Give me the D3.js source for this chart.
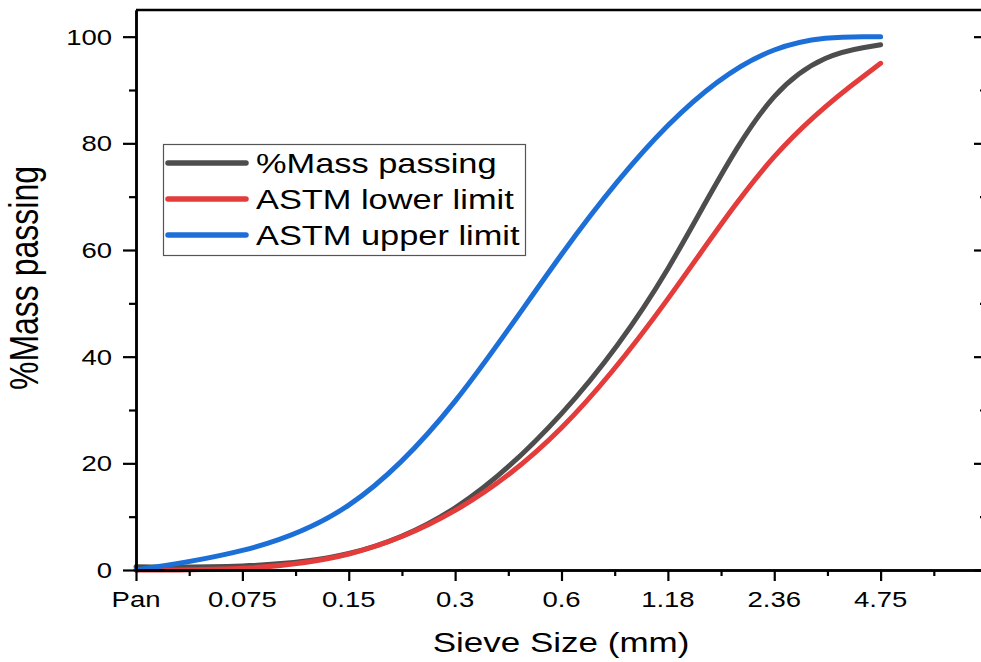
<!DOCTYPE html>
<html>
<head>
<meta charset="utf-8">
<script src="https://cdn.jsdelivr.net/npm/d3@7/dist/d3.min.js"></script>
<style>
  body { margin: 0; background: #fff; }
  text { font-family: "Liberation Sans", Arial, sans-serif; fill: #000; }
</style>
</head>
<body>
<svg id="chart" width="981" height="662"></svg>
<script>
// sieve sizes (categorical, evenly spaced)
const sieves = ['Pan', '0.075', '0.15', '0.3', '0.6', '1.18', '2.36', '4.75'];
// % passing for each sieve
const massPassing = [0.6, 0.5, 2, 10, 28, 54, 95, 98.5];
const lowerLimit = [0, 0, 2, 10, 25, 50, 80, 95];
const upperLimit = [0, 3, 10, 30, 60, 85, 100, 100];
const yTicks = [0, 20, 40, 60, 80, 100];

const series = [
  { name: '%Mass passing', values: massPassing, color: '#4d4d4d' },
  { name: 'ASTM lower limit', values: lowerLimit, color: '#e43b3b' },
  { name: 'ASTM upper limit', values: upperLimit, color: '#1d6fd8' }
];

const stretch = 1.25; // picture is a bit wide, so the text is too
const svg = d3.select('#chart');

const x = d3.scaleLinear().domain([0, 8]).range([136, 987]);
const y = d3.scaleLinear().domain([0, 105]).range([570, 10]);

// frame top + right
svg.append('line').attr('x1', x(0)).attr('x2', x(8)).attr('y1', y(105)).attr('y2', y(105))
  .attr('stroke', '#000').attr('stroke-width', 2.5);
svg.append('line').attr('x1', x(8)).attr('x2', x(8)).attr('y1', y(105)).attr('y2', y(0))
  .attr('stroke', '#000').attr('stroke-width', 2.5);

// curves (B-spline, same as the original plot)
const line = d3.line()
  .x((d, i) => x(i))
  .y(d => y(d))
  .curve(d3.curveBasis);

svg.append('g').selectAll('path')
  .data(series)
  .enter()
  .append('path')
  .attr('d', d => line(d.values))
  .attr('fill', 'none')
  .attr('stroke', d => d.color)
  .attr('stroke-width', 5)
  .attr('stroke-linecap', 'round');

// left axis: minor then major
svg.append('g').attr('transform', `translate(${x(0)},0)`)
  .call(d3.axisLeft(y).tickValues([10, 30, 50, 70, 90]).tickSize(7).tickSizeOuter(0).tickFormat(''));
svg.append('g').attr('transform', `translate(${x(0)},0)`)
  .call(d3.axisLeft(y).tickValues(yTicks).tickSize(13).tickSizeOuter(0).tickFormat(''));

// right axis ticks point inward
svg.append('g').attr('transform', `translate(${x(8)},0)`)
  .call(d3.axisLeft(y).tickValues([10, 30, 50, 70, 90]).tickSize(7).tickSizeOuter(0).tickFormat(''));
svg.append('g').attr('transform', `translate(${x(8)},0)`)
  .call(d3.axisLeft(y).tickValues(yTicks).tickSize(13).tickSizeOuter(0).tickFormat(''));

// bottom axis
svg.append('g').attr('transform', `translate(0,${y(0)})`)
  .call(d3.axisBottom(x).tickValues(d3.range(0.5, 8, 1)).tickSize(6).tickSizeOuter(0).tickFormat(''));
svg.append('g').attr('transform', `translate(0,${y(0)})`)
  .call(d3.axisBottom(x).tickValues(d3.range(0, 9)).tickSize(11).tickSizeOuter(0).tickFormat(''));

svg.selectAll('.domain').attr('stroke', '#000').attr('stroke-width', 2.5);
svg.selectAll('.tick line').attr('stroke', '#000').attr('stroke-width', 2.2);

// tick labels
svg.append('g').selectAll('text')
  .data(yTicks)
  .enter()
  .append('text')
  .attr('transform', d => `translate(112,${y(d) + 8}) scale(${stretch},1)`)
  .attr('text-anchor', 'end')
  .style('font-size', '22px')
  .text(d => d);

svg.append('g').selectAll('text')
  .data(sieves)
  .enter()
  .append('text')
  .attr('transform', (d, i) => `translate(${x(i)},607) scale(${stretch},1)`)
  .attr('text-anchor', 'middle')
  .style('font-size', '22px')
  .text(d => d);

// axis titles
svg.append('text')
  .attr('transform', `translate(561,652) scale(${stretch},1)`)
  .attr('text-anchor', 'middle')
  .style('font-size', '28px')
  .text('Sieve Size (mm)');

svg.append('text')
  .attr('transform', `translate(38,278) scale(${stretch},1) rotate(-90)`)
  .attr('text-anchor', 'middle')
  .style('font-size', '32px')
  .text('%Mass passing');

// legend
const legend = svg.append('g');
legend.append('rect')
  .attr('x', 163.5).attr('y', 144.5).attr('width', 362).attr('height', 111)
  .attr('fill', '#fff').attr('stroke', '#555').attr('stroke-width', 1.2);

const rows = legend.selectAll('g.row')
  .data(series)
  .enter()
  .append('g')
  .classed('row', true)
  .attr('transform', (d, i) => `translate(0,${163 + i * 36})`);

rows.append('line')
  .attr('x1', 168).attr('x2', 246).attr('y1', 0).attr('y2', 0)
  .attr('stroke', d => d.color)
  .attr('stroke-width', 5.5)
  .attr('stroke-linecap', 'round');

rows.append('text')
  .attr('transform', `translate(256,10) scale(${stretch},1)`)
  .style('font-size', '27.5px')
  .text(d => d.name);
</script>
</body>
</html>
